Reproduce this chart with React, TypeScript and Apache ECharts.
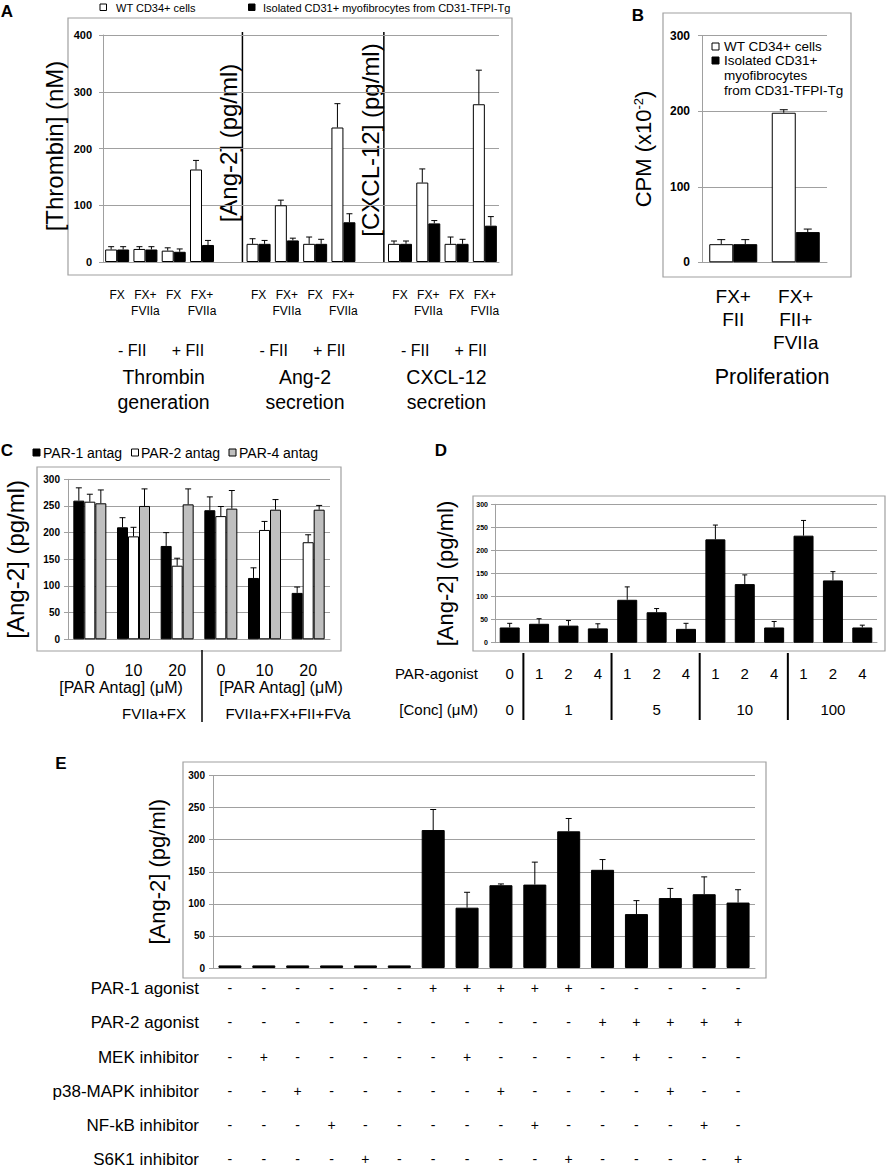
import React, { useEffect, useRef } from "react";
import * as echarts from "echarts";

const FONT = "'Liberation Sans', Arial, sans-serif";

// ---------- Panel A ----------
const panelACategories = ["FX", "FX+\nFVIIa", "FX", "FX+\nFVIIa", "", "FX", "FX+\nFVIIa", "FX", "FX+\nFVIIa", "", "FX", "FX+\nFVIIa", "FX", "FX+\nFVIIa"];
const panelAWt = [22, 23, 20, 163, null, 32, 100, 32, 237, null, 32, 140, 32, 278];
const panelAWtErr = [5, 4, 5, 16, null, 9, 9, 12, 42, null, 5, 24, 12, 60];
const panelATg = [22, 22, 18, 30, null, 32, 38, 32, 70, null, 32, 68, 32, 64];
const panelATgErr = [5, 5, 5, 8, null, 6, 4, 8, 15, null, 5, 5, 8, 16];
const panelAFII = ["- FII", "+ FII"];
const panelASections = [["Thrombin", "generation"], ["Ang-2", "secretion"], ["CXCL-12", "secretion"]];
const panelATitles = ["[Thrombin] (nM)", "[Ang-2] (pg/ml)", "[CXCL-12] (pg/ml)"];

// ---------- Panel B ----------
const panelBCategories = ["FX+\nFII", "FX+\nFII+\nFVIIa"];
const panelBWt = [24, 198];
const panelBWtErr = [6, 4];
const panelBTg = [24, 40];
const panelBTgErr = [6, 4];

// ---------- Panel C ----------
const panelCCategories = ["0", "10", "20", "0", "10", "20"];
const panelCPar1 = [260, 210, 175, 242, 115, 87];
const panelCPar1Err = [24, 18, 25, 25, 19, 11];
const panelCPar2 = [258, 193, 138, 231, 205, 182];
const panelCPar2Err = [14, 17, 14, 18, 16, 14];
const panelCPar4 = [255, 250, 253, 245, 243, 243];
const panelCPar4Err = [25, 32, 29, 34, 19, 8];

// ---------- Panel D ----------
const panelDAgonist = ["0", "1", "2", "4", "1", "2", "4", "1", "2", "4", "1", "2", "4"];
const panelDConc = ["0", "", "1", "", "", "5", "", "", "10", "", "", "100", ""];
const panelDValues = [33, 41, 37, 31, 93, 66, 30, 224, 127, 33, 232, 135, 33];
const panelDErr = [9, 11, 11, 10, 28, 8, 12, 31, 20, 13, 33, 19, 5];

// ---------- Panel E ----------
const panelEValues = [4, 4, 4, 4, 4, 4, 215, 94, 129, 130, 213, 153, 84, 109, 115, 102];
const panelEErr = [0, 0, 0, 0, 0, 0, 32, 24, 2, 35, 20, 16, 21, 15, 27, 20];
const panelERowNames = ["PAR-1 agonist", "PAR-2 agonist", "MEK inhibitor", "p38-MAPK inhibitor", "NF-kB inhibitor", "S6K1 inhibitor"];
const panelERows = [
  ["-", "-", "-", "-", "-", "-", "+", "+", "+", "+", "+", "-", "-", "-", "-", "-"],
  ["-", "-", "-", "-", "-", "-", "-", "-", "-", "-", "-", "+", "+", "+", "+", "+"],
  ["-", "+", "-", "-", "-", "-", "-", "+", "-", "-", "-", "-", "+", "-", "-", "-"],
  ["-", "-", "+", "-", "-", "-", "-", "-", "+", "-", "-", "-", "-", "+", "-", "-"],
  ["-", "-", "-", "+", "-", "-", "-", "-", "-", "+", "-", "-", "-", "-", "+", "-"],
  ["-", "-", "-", "-", "+", "-", "-", "-", "-", "-", "+", "-", "-", "-", "-", "+"],
];

const WT = "WT CD34+ cells";
const TG = "Isolated CD31+ myofibrocytes from CD31-TFPI-Tg";

// layout
const GA = { left: 103, top: 35, width: 396, height: 227 };
const GB = { left: 702, top: 35.7, width: 125, height: 226.6 };
const GC = { left: 68, top: 479.3, width: 262, height: 160 };
const GD = { left: 495, top: 504.3, width: 382, height: 138.4 };
const GE = { left: 213, top: 775.5, width: 542, height: 192.5 };
const GRAY = "#a0a0a0";

function errSeries(xIdx: number, yIdx: number, values: any[], errs: any[], offset: number, cap: number) {
  const data: any[] = [];
  values.forEach((v, i) => {
    if (v != null && errs[i]) data.push([i, v, errs[i]]);
  });
  return {
    type: "custom",
    xAxisIndex: xIdx,
    yAxisIndex: yIdx,
    z: 5,
    silent: true,
    encode: { x: 0, y: 1 },
    data,
    renderItem: (params: any, api: any) => {
      const i = api.value(0);
      const v = api.value(1);
      const e = api.value(2);
      const p0 = api.coord([i, v]);
      const p1 = api.coord([i, v + e]);
      const x = p0[0] + offset;
      return {
        type: "group",
        children: [
          { type: "line", shape: { x1: x, y1: p0[1], x2: x, y2: p1[1] }, style: { stroke: "#000", lineWidth: 1 } },
          { type: "line", shape: { x1: x - cap, y1: p1[1], x2: x + cap, y2: p1[1] }, style: { stroke: "#000", lineWidth: 1 } },
        ],
      };
    },
  };
}

function txt(text: string, x: number, y: number, fontSize: number, o: any = {}) {
  return {
    type: "text",
    x,
    y,
    rotation: o.rot || 0,
    style: {
      text,
      fontSize,
      fontFamily: FONT,
      fontWeight: o.bold ? "bold" : "normal",
      fill: "#000",
      align: o.align || "center",
      textAlign: o.align || "center",
      verticalAlign: "middle",
      textVerticalAlign: "middle",
    },
  };
}
function box(x: number, y: number, w: number, h: number, fill: string, stroke: string, lw = 1) {
  return { type: "rect", shape: { x, y, width: w, height: h }, style: { fill, stroke, lineWidth: lw } };
}
function vline(x: number, y1: number, y2: number, lw: number) {
  return { type: "line", shape: { x1: x, y1, x2: x, y2 }, style: { stroke: "#000", lineWidth: lw } };
}

function yAxis(gridIndex: number, max: number, interval: number, fs: number, margin: number, name: any, nameGap: number, nameFs: number, rich?: any) {
  const ax: any = {
    gridIndex,
    type: "value",
    min: 0,
    max,
    interval,
    axisLine: { show: true, lineStyle: { color: GRAY } },
    axisTick: { show: true, length: 4, lineStyle: { color: GRAY } },
    axisLabel: { fontWeight: "bold", fontSize: fs, margin, color: "#000", fontFamily: FONT },
    splitLine: { show: true, lineStyle: { color: GRAY, width: 1 } },
  };
  if (name) {
    Object.assign(ax, {
      name,
      nameLocation: "middle",
      nameRotate: 90,
      nameGap,
      nameTextStyle: { fontSize: nameFs, color: "#000", fontFamily: FONT, rich },
    });
  }
  return ax;
}

function catAxis(gridIndex: number, data: string[], label: any) {
  return {
    gridIndex,
    type: "category",
    data,
    axisLine: { show: true, lineStyle: { color: GRAY } },
    axisTick: { show: false },
    splitLine: { show: false },
    axisLabel: { interval: 0, color: "#000", fontFamily: FONT, ...label },
  };
}

function rowAxis(gridIndex: number, data: string[], offset: number, fs: number, name: string, nameFs: number, nameGap: number) {
  return {
    gridIndex,
    type: "category",
    data,
    position: "bottom",
    offset,
    axisLine: { show: false },
    axisTick: { show: false },
    splitLine: { show: false },
    axisLabel: { interval: 0, margin: 0, verticalAlign: "middle", fontSize: fs, color: "#000", fontFamily: FONT },
    name,
    nameLocation: "start",
    nameGap,
    nameTextStyle: { fontSize: nameFs, color: "#000", fontFamily: FONT, align: "right", verticalAlign: "middle" },
  };
}

function buildOption() {
  const slotA = GA.width / 14;
  const slotD = GD.width / 13;
  const graphic: any[] = [];

  // panel letters
  graphic.push(txt("A", 7, 11, 17, { bold: true }));
  graphic.push(txt("B", 638, 15, 17, { bold: true }));
  graphic.push(txt("C", 7, 450, 17, { bold: true }));
  graphic.push(txt("D", 441, 450, 17, { bold: true }));
  graphic.push(txt("E", 61, 763, 17, { bold: true }));

  // borders
  graphic.push(box(68, 18, 444, 257, "none", GRAY, 1.2));
  graphic.push(box(663, 13, 188, 264, "none", GRAY, 1.2));
  graphic.push(box(37, 467, 304, 184, "none", GRAY, 1.2));
  graphic.push(box(473, 496, 412, 155, "none", GRAY, 1.2));
  graphic.push(box(183, 762, 583, 216, "none", GRAY, 1.2));

  // legend A
  graphic.push(box(100, 4, 6.5, 6.5, "#fff", "#000"));
  graphic.push(txt(WT, 116, 8, 11, { align: "left" }));
  graphic.push(box(248.5, 4, 6.5, 6.5, "#000", "#000"));
  graphic.push(txt(TG, 263, 8, 11, { align: "left" }));

  // panel A separators & titles
  graphic.push(vline(GA.left + 5 * slotA - 2, 32, GA.top + GA.height, 1.5));
  graphic.push(vline(GA.left + 10 * slotA - 2, 32, GA.top + GA.height, 1.5));
  graphic.push(txt(panelATitles[0], 54, 146, 24, { rot: Math.PI / 2 }));
  graphic.push(txt(panelATitles[1], 228, 143, 24, { rot: Math.PI / 2 }));
  graphic.push(txt(panelATitles[2], 370, 140, 24, { rot: Math.PI / 2 }));
  // panel A sub labels
  [0, 5, 10].forEach((start, s) => {
    graphic.push(txt(panelAFII[0], GA.left + (start + 1) * slotA + 1, 350, 16));
    graphic.push(txt(panelAFII[1], GA.left + (start + 3) * slotA, 350, 16));
    const cx = GA.left + (start + 2) * slotA + 4;
    graphic.push(txt(panelASections[s][0], cx, 377, 19.5));
    graphic.push(txt(panelASections[s][1], cx, 402, 19.5));
  });

  // legend B
  graphic.push(box(712, 43, 7, 7, "#fff", "#000"));
  graphic.push(txt(WT, 724, 46.5, 13.5, { align: "left" }));
  graphic.push(box(712, 57, 7, 7, "#000", "#000"));
  graphic.push(txt("Isolated CD31+", 724, 60.5, 13.5, { align: "left" }));
  graphic.push(txt("myofibrocytes", 724, 75.5, 13.5, { align: "left" }));
  graphic.push(txt("from CD31-TFPI-Tg", 724, 90.5, 13.5, { align: "left" }));
  graphic.push(txt("Proliferation", 772, 377, 21.5));

  // legend C
  graphic.push(box(33, 449, 7, 7, "#000", "#000"));
  graphic.push(txt("PAR-1 antag", 43, 452.5, 14, { align: "left" }));
  graphic.push(box(131.5, 449, 7, 7, "#fff", "#000"));
  graphic.push(txt("PAR-2 antag", 141, 452.5, 14, { align: "left" }));
  graphic.push(box(229, 449, 7, 7, "#bfbfbf", "#000"));
  graphic.push(txt("PAR-4 antag", 239, 452.5, 14, { align: "left" }));
  graphic.push(txt("[PAR Antag] (\u03bcM)", 121, 687, 16));
  graphic.push(txt("[PAR Antag] (\u03bcM)", 281, 687, 16));
  graphic.push(txt("FVIIa+FX", 154, 713, 15));
  graphic.push(txt("FVIIa+FX+FII+FVa", 288, 713, 15));
  graphic.push(vline(202, 650, 722, 1.5));

  // D separators
  [1, 4, 7, 10].forEach((k) => graphic.push(vline(GD.left + k * slotD - 1, 653, 720, 2)));

  const barWhite = { color: "#fff", borderColor: "#000", borderWidth: 1 };
  const barBlack = { color: "#000", borderColor: "#000", borderWidth: 1 };
  const barGray = { color: "#bfbfbf", borderColor: "#000", borderWidth: 1 };

  const xAxis: any[] = [
    catAxis(0, panelACategories, { margin: 25, fontSize: 12, lineHeight: 16 }),
    catAxis(1, panelBCategories, { margin: 23, fontSize: 19, lineHeight: 23 }),
    catAxis(2, panelCCategories, { margin: 31, fontSize: 16, verticalAlign: "middle" }),
    { ...catAxis(3, panelDAgonist, { show: false }) },
    rowAxis(3, panelDAgonist, 31, 15, "PAR-agonist", 15, 17),
    rowAxis(3, panelDConc, 67, 15, "[Conc] (\u03bcM)", 15, 17),
    { ...catAxis(4, panelEValues.map((_, i) => String(i + 1)), { show: false }) },
  ];
  const eOffsets = [20, 54, 89, 123, 157, 191];
  panelERows.forEach((row, r) => xAxis.push(rowAxis(4, row, eOffsets[r], 14, panelERowNames[r], 17, 14)));

  const yAxes = [
    yAxis(0, 400, 100, 11, 11, null, 0, 24),
    yAxis(1, 300, 100, 12, 12, "CPM (x10{sup|-2})", 48, 22, { sup: { fontSize: 13, lineHeight: 13, verticalAlign: "top", color: "#000", fontFamily: FONT } }),
    yAxis(2, 300, 50, 10, 8, "[Ang-2] (pg/ml)", 41, 24),
    yAxis(3, 300, 50, 7, 7, "[Ang-2] (pg/ml)", 39, 22),
    yAxis(4, 300, 50, 10, 8, "[Ang-2] (pg/ml)", 45, 22),
  ];

  const series: any[] = [
    // A
    { type: "bar", name: WT, xAxisIndex: 0, yAxisIndex: 0, data: panelAWt, barWidth: 12, barGap: "0%", itemStyle: barWhite },
    { type: "bar", name: TG, xAxisIndex: 0, yAxisIndex: 0, data: panelATg, barWidth: 12, barGap: "0%", itemStyle: barBlack },
    errSeries(0, 0, panelAWt, panelAWtErr, -6, 3),
    errSeries(0, 0, panelATg, panelATgErr, 6, 3),
    // B
    { type: "bar", name: WT, xAxisIndex: 1, yAxisIndex: 1, data: panelBWt, barWidth: 24, barGap: "0%", itemStyle: barWhite },
    { type: "bar", name: TG, xAxisIndex: 1, yAxisIndex: 1, data: panelBTg, barWidth: 24, barGap: "0%", itemStyle: barBlack },
    errSeries(1, 1, panelBWt, panelBWtErr, -12, 4),
    errSeries(1, 1, panelBTg, panelBTgErr, 12, 4),
    // C
    { type: "bar", name: "PAR-1 antag", xAxisIndex: 2, yAxisIndex: 2, data: panelCPar1, barWidth: 11, barGap: "0%", itemStyle: barBlack },
    { type: "bar", name: "PAR-2 antag", xAxisIndex: 2, yAxisIndex: 2, data: panelCPar2, barWidth: 11, barGap: "0%", itemStyle: barWhite },
    { type: "bar", name: "PAR-4 antag", xAxisIndex: 2, yAxisIndex: 2, data: panelCPar4, barWidth: 11, barGap: "0%", itemStyle: barGray },
    errSeries(2, 2, panelCPar1, panelCPar1Err, -11, 3),
    errSeries(2, 2, panelCPar2, panelCPar2Err, 0, 3),
    errSeries(2, 2, panelCPar4, panelCPar4Err, 11, 3),
    // D
    { type: "bar", name: "Ang-2 D", xAxisIndex: 3, yAxisIndex: 3, data: panelDValues, barWidth: 20, itemStyle: barBlack },
    errSeries(3, 3, panelDValues, panelDErr, 0, 2.5),
    // E
    { type: "bar", name: "Ang-2 E", xAxisIndex: 6, yAxisIndex: 4, data: panelEValues, barWidth: 23, itemStyle: barBlack },
    errSeries(6, 4, panelEValues, panelEErr, 0, 3),
  ];

  return {
    animation: false,
    backgroundColor: "#fff",
    textStyle: { fontFamily: FONT, color: "#000" },
    grid: [GA, GB, GC, GD, GE].map((g) => ({ ...g, containLabel: false })),
    xAxis,
    yAxis: yAxes,
    series,
    graphic,
  };
}

export default function App() {
  const ref = useRef<HTMLDivElement>(null);
  useEffect(() => {
    const chart = echarts.init(ref.current as HTMLDivElement, null, { renderer: "svg" });
    chart.setOption(buildOption() as any);
    return () => chart.dispose();
  }, []);
  return <div ref={ref} style={{ position: "absolute", left: 0, top: 0, width: 888, height: 1169, background: "#fff" }} />;
}
